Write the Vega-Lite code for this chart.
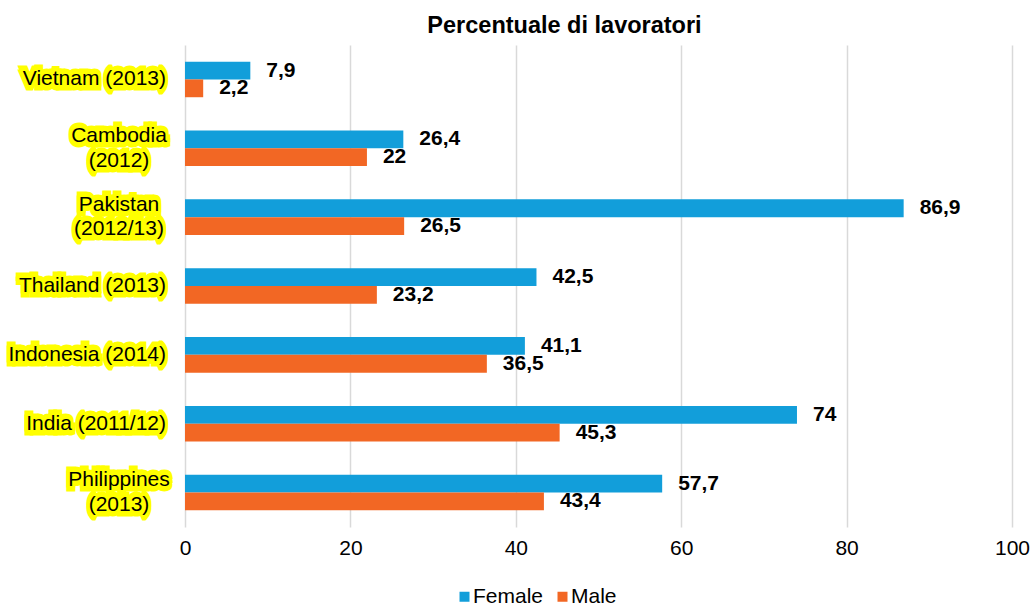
{
  "$schema": "https://vega.github.io/schema/vega-lite/v6.json",
  "width": 827,
  "height": 482,
  "autosize": {"type": "none"},
  "padding": {"left": 185, "top": 45, "right": 18, "bottom": 79},
  "background": "#ffffff",
  "config": {
    "view": {"stroke": null},
    "font": "Liberation Sans",
    "locale": {"number": {"decimal": ",", "thousands": ".", "grouping": [3], "currency": ["", " €"]}}
  },
  "title": {
    "text": "Percentuale di lavoratori",
    "font": "Liberation Sans",
    "fontSize": 23.5,
    "fontWeight": "bold",
    "color": "#000000",
    "anchor": "middle",
    "dx": -34,
    "offset": 8
  },
  "data": {
    "values": [
      {"country": "Vietnam", "label": "Vietnam (2013)", "sex": "Female", "value": 7.9},
      {"country": "Vietnam", "label": "Vietnam (2013)", "sex": "Male", "value": 2.2},
      {"country": "Cambodia", "label": "Cambodia\n(2012)", "sex": "Female", "value": 26.4},
      {"country": "Cambodia", "label": "Cambodia\n(2012)", "sex": "Male", "value": 22},
      {"country": "Pakistan", "label": "Pakistan\n(2012/13)", "sex": "Female", "value": 86.9},
      {"country": "Pakistan", "label": "Pakistan\n(2012/13)", "sex": "Male", "value": 26.5},
      {"country": "Thailand", "label": "Thailand (2013)", "sex": "Female", "value": 42.5},
      {"country": "Thailand", "label": "Thailand (2013)", "sex": "Male", "value": 23.2},
      {"country": "Indonesia", "label": "Indonesia (2014)", "sex": "Female", "value": 41.1},
      {"country": "Indonesia", "label": "Indonesia (2014)", "sex": "Male", "value": 36.5},
      {"country": "India", "label": "India (2011/12)", "sex": "Female", "value": 74},
      {"country": "India", "label": "India (2011/12)", "sex": "Male", "value": 45.3},
      {"country": "Philippines", "label": "Philippines\n(2013)", "sex": "Female", "value": 57.7},
      {"country": "Philippines", "label": "Philippines\n(2013)", "sex": "Male", "value": 43.4}
    ]
  },
  "encoding": {
    "y": {
      "field": "country",
      "type": "nominal",
      "sort": null,
      "scale": {"paddingInner": 0.483, "paddingOuter": 0.2415},
      "axis": null
    }
  },
  "layer": [
    {
      "mark": {"type": "bar"},
      "encoding": {
        "x": {
          "field": "value",
          "type": "quantitative",
          "scale": {"domain": [0, 100], "nice": false},
          "axis": {
            "title": null,
            "values": [0, 20, 40, 60, 80, 100],
            "domain": false,
            "ticks": false,
            "grid": true,
            "gridColor": "#d9d9d9",
            "gridWidth": 1.5,
            "labelFont": "Liberation Sans",
            "labelFontSize": 21,
            "labelColor": "#000000",
            "labelPadding": 10,
            "labelFlush": false
          }
        },
        "yOffset": {"field": "sex", "type": "nominal", "sort": ["Female", "Male"]},
        "color": {
          "field": "sex",
          "type": "nominal",
          "scale": {"domain": ["Female", "Male"], "range": ["#129eda", "#f26724"]},
          "legend": {
            "title": null,
            "orient": "none",
            "legendX": 269,
            "legendY": 541,
            "direction": "horizontal",
            "symbolType": "square",
            "symbolSize": 100,
            "symbolStrokeWidth": 0,
            "labelFont": "Liberation Sans",
            "labelFontSize": 21,
            "labelColor": "#000000",
            "labelOffset": -2,
            "columnPadding": 8,
            "padding": 0
          }
        }
      }
    },
    {
      "mark": {"type": "text", "align": "left", "baseline": "middle", "dx": 16, "font": "Liberation Sans", "fontSize": 21, "fontWeight": "bold", "color": "#000000"},
      "encoding": {
        "x": {"field": "value", "type": "quantitative"},
        "yOffset": {"field": "sex", "type": "nominal", "sort": ["Female", "Male"]},
        "text": {"field": "value", "type": "quantitative", "format": ".1~f"}
      }
    },
    {
      "transform": [{"filter": "datum.sex === 'Female' && indexof(datum.label, '\\n') < 0"}],
      "layer": [
        {
          "mark": {"type": "text", "align": "right", "baseline": "middle", "dx": -19, "dy": -2, "font": "Liberation Sans", "fontSize": 21, "fill": "#ffff00", "stroke": "#ffff00", "strokeWidth": 7, "strokeJoin": "miter", "strokeMiterLimit": 2}
        },
        {
          "mark": {"type": "text", "align": "right", "baseline": "middle", "dx": -19, "dy": 2, "font": "Liberation Sans", "fontSize": 21, "fill": "#ffff00", "stroke": "#ffff00", "strokeWidth": 7, "strokeJoin": "miter", "strokeMiterLimit": 2}
        },
        {
          "mark": {"type": "text", "align": "right", "baseline": "middle", "dx": -19, "font": "Liberation Sans", "fontSize": 21, "fill": "#000000"}
        }
      ],
      "encoding": {
        "x": {"datum": 0},
        "text": {"field": "label", "type": "nominal"}
      }
    },
    {
      "transform": [{"filter": "datum.sex === 'Female' && indexof(datum.label, '\\n') >= 0"}],
      "layer": [
        {
          "mark": {"type": "text", "align": "center", "baseline": "middle", "dx": -66, "dy": -14.25, "lineBreak": "\n", "lineHeight": 24.5, "font": "Liberation Sans", "fontSize": 21, "fill": "#ffff00", "stroke": "#ffff00", "strokeWidth": 7, "strokeJoin": "miter", "strokeMiterLimit": 2}
        },
        {
          "mark": {"type": "text", "align": "center", "baseline": "middle", "dx": -66, "dy": -10.25, "lineBreak": "\n", "lineHeight": 24.5, "font": "Liberation Sans", "fontSize": 21, "fill": "#ffff00", "stroke": "#ffff00", "strokeWidth": 7, "strokeJoin": "miter", "strokeMiterLimit": 2}
        },
        {
          "mark": {"type": "text", "align": "center", "baseline": "middle", "dx": -66, "dy": -12.25, "lineBreak": "\n", "lineHeight": 24.5, "font": "Liberation Sans", "fontSize": 21, "fill": "#000000"}
        }
      ],
      "encoding": {
        "x": {"datum": 0},
        "text": {"field": "label", "type": "nominal"}
      }
    }
  ]
}
